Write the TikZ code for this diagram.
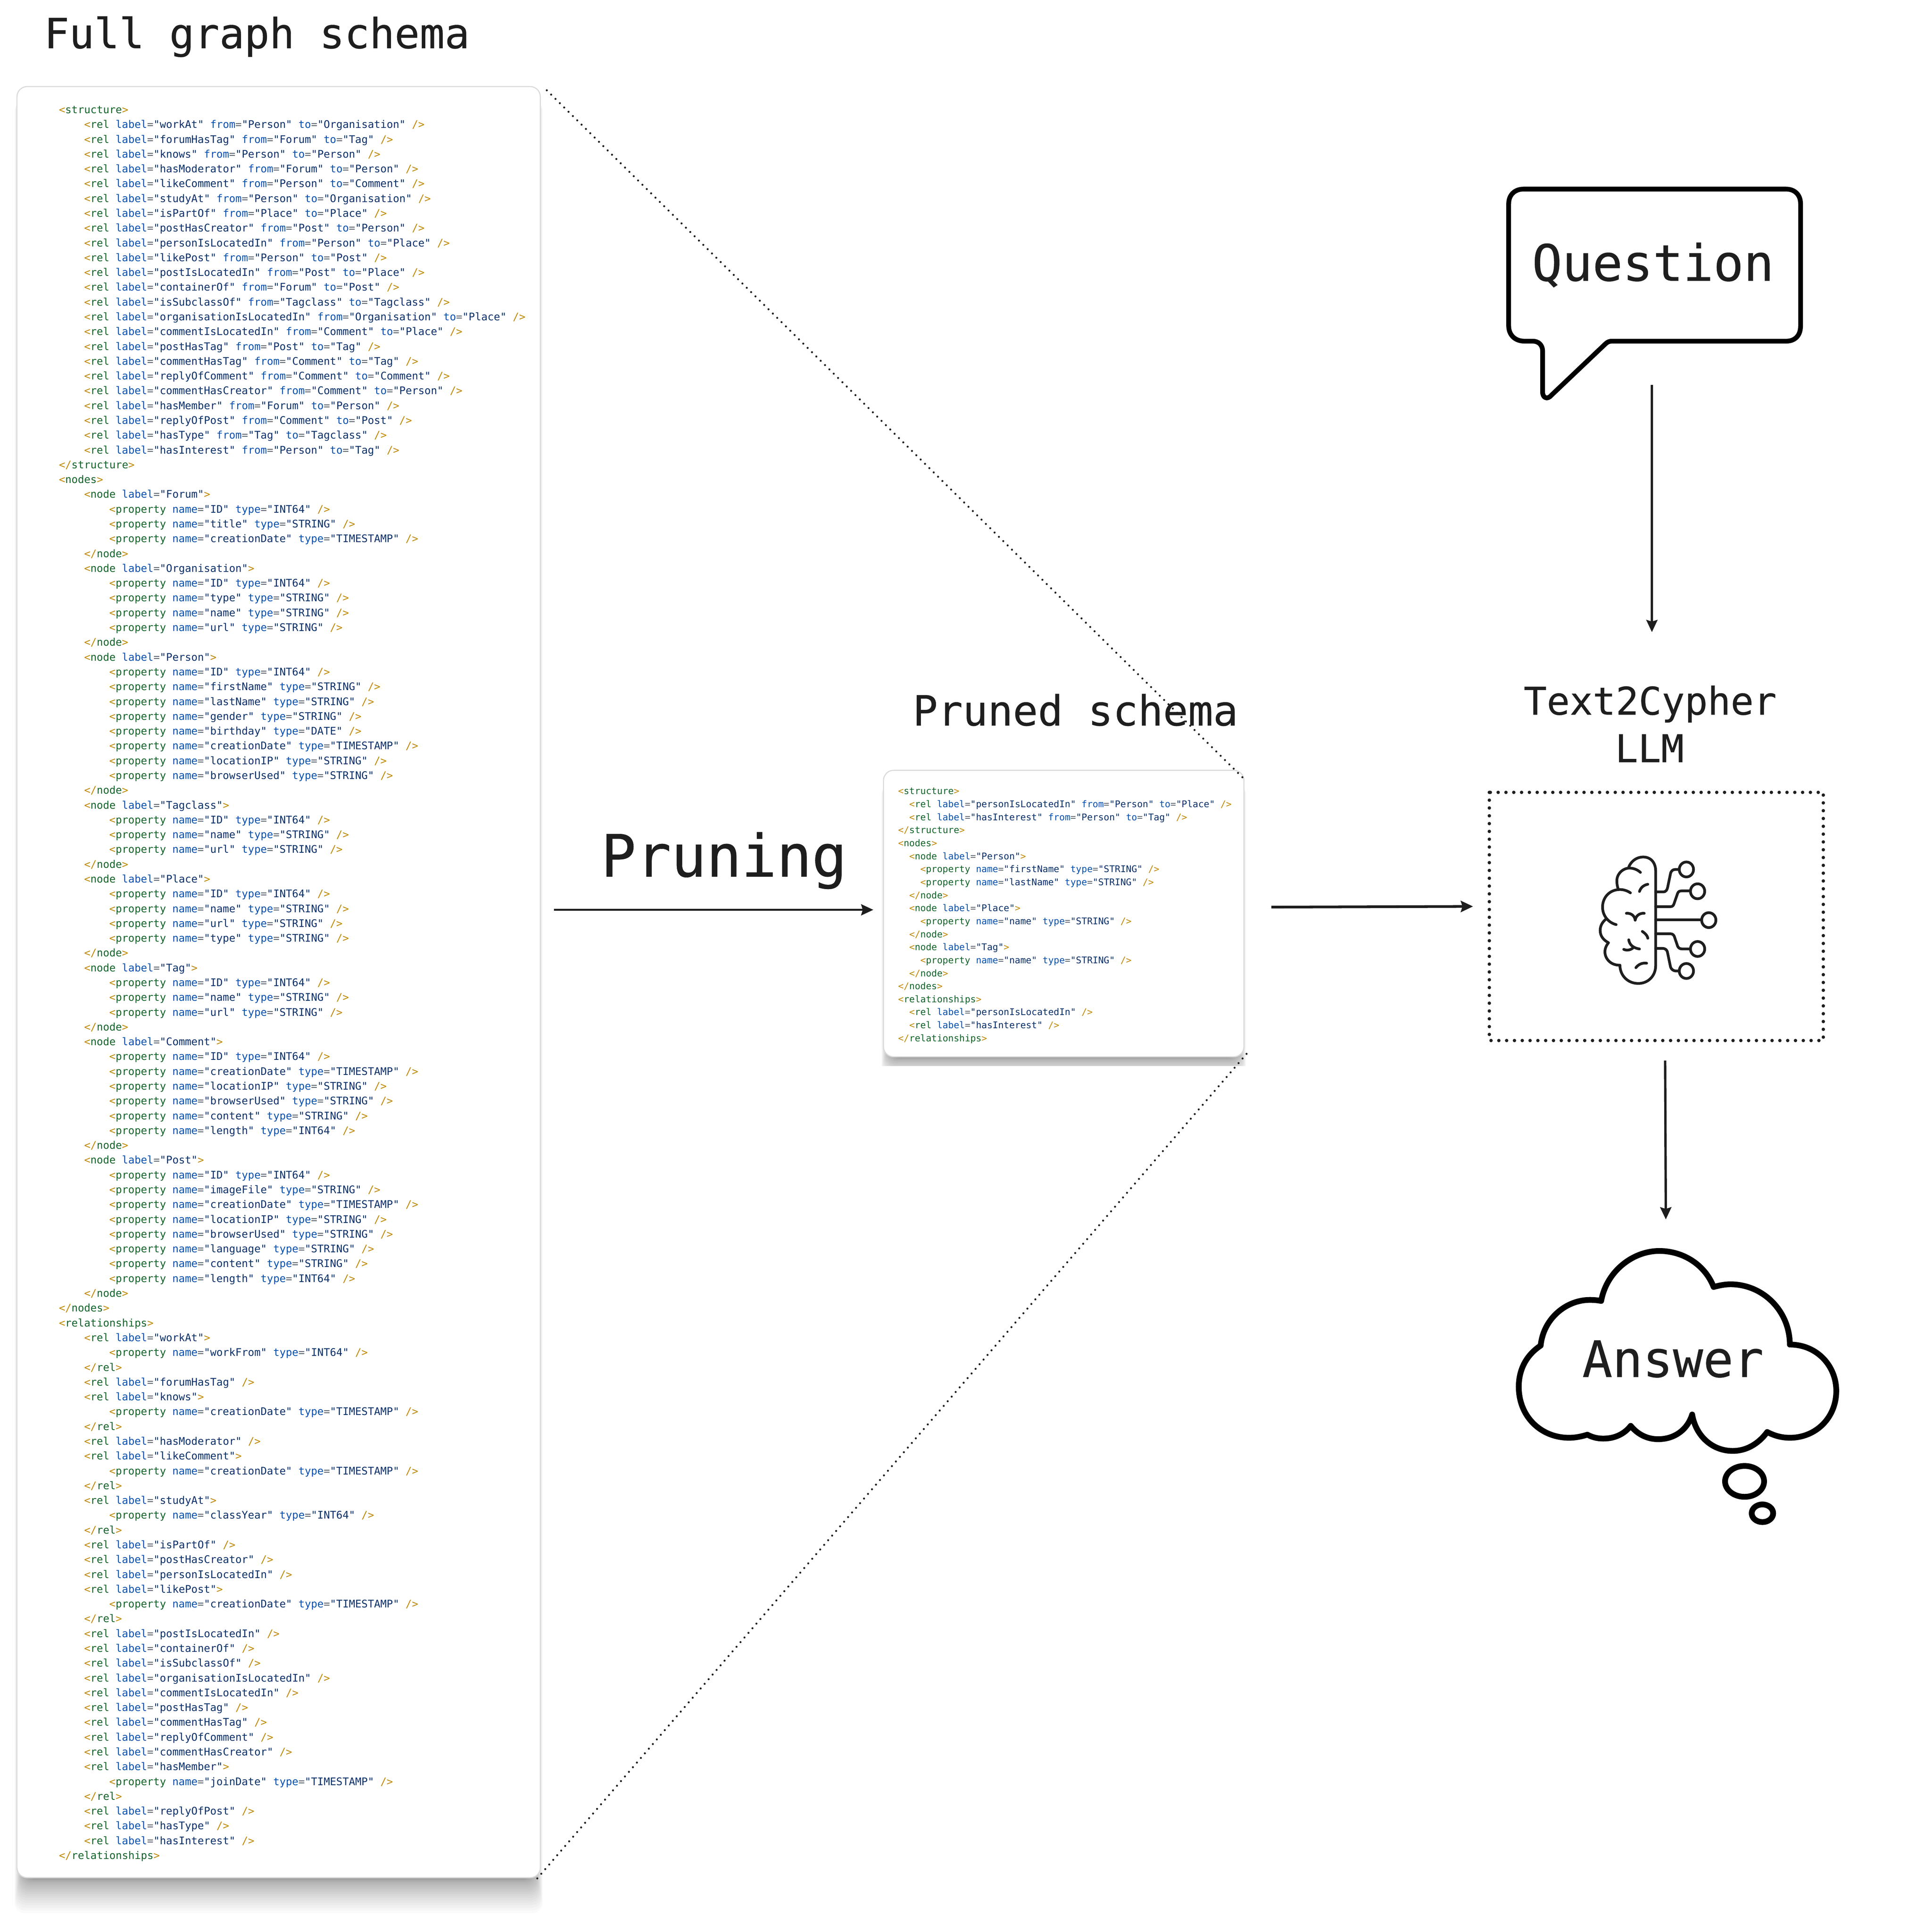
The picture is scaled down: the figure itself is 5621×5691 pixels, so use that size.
\documentclass[tikz,border=0pt]{standalone}
\usepackage{fontspec}
\usepackage{xcolor}
\usetikzlibrary{arrows.meta}
\newfontfamily\cmono{DejaVu Sans Mono}
\newfontfamily\cmonob[FakeBold=0.4]{DejaVu Sans Mono}
\definecolor{cpunct}{HTML}{BF8803}
\definecolor{ctag}{HTML}{116329}
\definecolor{cattr}{HTML}{0550AE}
\definecolor{ceq}{HTML}{57606A}
\definecolor{cval}{HTML}{0A3069}
\definecolor{ink}{HTML}{1E1E1E}
\newcommand\TO[1]{{\color{cpunct}<}{\color{ctag}#1}}
\newcommand\AT[2]{\ {\color{cattr}#1}{\color{ceq}=}{\color{cval}"#2"}}
\newcommand\CL{\ {\color{cpunct}/>}}
\newcommand\GT{{\color{cpunct}>}}
\newcommand\ET[1]{{\color{cpunct}</}{\color{ctag}#1}{\color{cpunct}>}}
\newcommand\OT[1]{{\color{cpunct}<}{\color{ctag}#1}{\color{cpunct}>}}
\newcommand\RF[3]{\TO{rel}\AT{label}{#1}\AT{from}{#2}\AT{to}{#3}\CL}
\newcommand\RS[1]{\TO{rel}\AT{label}{#1}\CL}
\newcommand\RO[1]{\TO{rel}\AT{label}{#1}\GT}
\newcommand\NO[1]{\TO{node}\AT{label}{#1}\GT}
\newcommand\PR[2]{\TO{property}\AT{name}{#1}\AT{type}{#2}\CL}
\newcount\lnum
\newcommand\FL[2]{\node[codefull] (f\the\lnum) at ({173.5+#1*18.55},{334+\the\lnum*43.58}) {#2};\global\advance\lnum by 1\relax}
\newcommand\SL[2]{\node[codesmall] (s\the\lnum) at ({2646+#1*16.35},{2340+\the\lnum*38.3}) {#2};\global\advance\lnum by 1\relax}
\newcommand\PShadow[6]{%
 \foreach \k in {0,...,24}{%
  \pgfmathsetmacro\ins{#6*(1-\k/24)-0.2*#6}%
  \pgfmathsetmacro\dd{#5*(0.02+0.98*(\k/24)*(\k/24))}%
  \fill[black,opacity=.02,rounded corners=30pt] ({#1+\ins},{#2+40}) rectangle ({#3-\ins},{#4+\dd});
 }}
\tikzset{
 x=1pt,y=-1pt,
 codefull/.style={anchor=base west,inner sep=0pt,font=\cmono\fontsize{30.85}{36}\selectfont},
 codesmall/.style={anchor=base west,inner sep=0pt,font=\cmono\fontsize{27.2}{32}\selectfont},
 titletext/.style={inner sep=0pt,text=ink,font=\cmonob\fontsize{122.5}{140}\selectfont},
 bigtext/.style={inner sep=0pt,text=ink,font=\cmonob\fontsize{148}{170}\selectfont},
 panel/.style={fill=white,draw=black!15,line width=3pt,rounded corners=30pt},
 flow/.style={draw=ink,-{Stealth[length=36pt,width=33pt,inset=5pt]}},
 dotline/.style={draw=ink,line width=6pt,line cap=round,dash pattern=on 0pt off 18pt},
 brainline/.style={draw=ink,line width=8pt,line cap=round,line join=round},
 heavy/.style={draw=black,line join=round,line cap=round},
}
\begin{document}
\begin{tikzpicture}
\path[fill=white,use as bounding box] (0,0) rectangle (5621,5691);

% titles
\node[titletext,anchor=base west] (tfull) at (130,142) {Full graph schema};
\node[titletext,anchor=base west] (tpruned) at (2689,2137) {Pruned schema};
\node[inner sep=0pt,text=ink,font=\cmonob\fontsize{172}{190}\selectfont,anchor=base] (tprune) at (2133,2582) {Pruning};
\node[titletext,anchor=base,font=\cmonob\fontsize{112.5}{130}\selectfont] (tllm1) at (4862,2105) {Text2Cypher};
\node[titletext,anchor=base,font=\cmonob\fontsize{112.5}{130}\selectfont] (tllm2) at (4860,2245) {LLM};

% full schema panel
\PShadow{50}{255}{1592}{5531}{105}{34}
\path[panel] (50,255) rectangle (1592,5531);
\lnum=0
\FL0{\OT{structure}}
\FL4{\RF{workAt}{Person}{Organisation}}
\FL4{\RF{forumHasTag}{Forum}{Tag}}
\FL4{\RF{knows}{Person}{Person}}
\FL4{\RF{hasModerator}{Forum}{Person}}
\FL4{\RF{likeComment}{Person}{Comment}}
\FL4{\RF{studyAt}{Person}{Organisation}}
\FL4{\RF{isPartOf}{Place}{Place}}
\FL4{\RF{postHasCreator}{Post}{Person}}
\FL4{\RF{personIsLocatedIn}{Person}{Place}}
\FL4{\RF{likePost}{Person}{Post}}
\FL4{\RF{postIsLocatedIn}{Post}{Place}}
\FL4{\RF{containerOf}{Forum}{Post}}
\FL4{\RF{isSubclassOf}{Tagclass}{Tagclass}}
\FL4{\RF{organisationIsLocatedIn}{Organisation}{Place}}
\FL4{\RF{commentIsLocatedIn}{Comment}{Place}}
\FL4{\RF{postHasTag}{Post}{Tag}}
\FL4{\RF{commentHasTag}{Comment}{Tag}}
\FL4{\RF{replyOfComment}{Comment}{Comment}}
\FL4{\RF{commentHasCreator}{Comment}{Person}}
\FL4{\RF{hasMember}{Forum}{Person}}
\FL4{\RF{replyOfPost}{Comment}{Post}}
\FL4{\RF{hasType}{Tag}{Tagclass}}
\FL4{\RF{hasInterest}{Person}{Tag}}
\FL0{\ET{structure}}
\FL0{\OT{nodes}}
\FL4{\NO{Forum}}
\FL8{\PR{ID}{INT64}}
\FL8{\PR{title}{STRING}}
\FL8{\PR{creationDate}{TIMESTAMP}}
\FL4{\ET{node}}
\FL4{\NO{Organisation}}
\FL8{\PR{ID}{INT64}}
\FL8{\PR{type}{STRING}}
\FL8{\PR{name}{STRING}}
\FL8{\PR{url}{STRING}}
\FL4{\ET{node}}
\FL4{\NO{Person}}
\FL8{\PR{ID}{INT64}}
\FL8{\PR{firstName}{STRING}}
\FL8{\PR{lastName}{STRING}}
\FL8{\PR{gender}{STRING}}
\FL8{\PR{birthday}{DATE}}
\FL8{\PR{creationDate}{TIMESTAMP}}
\FL8{\PR{locationIP}{STRING}}
\FL8{\PR{browserUsed}{STRING}}
\FL4{\ET{node}}
\FL4{\NO{Tagclass}}
\FL8{\PR{ID}{INT64}}
\FL8{\PR{name}{STRING}}
\FL8{\PR{url}{STRING}}
\FL4{\ET{node}}
\FL4{\NO{Place}}
\FL8{\PR{ID}{INT64}}
\FL8{\PR{name}{STRING}}
\FL8{\PR{url}{STRING}}
\FL8{\PR{type}{STRING}}
\FL4{\ET{node}}
\FL4{\NO{Tag}}
\FL8{\PR{ID}{INT64}}
\FL8{\PR{name}{STRING}}
\FL8{\PR{url}{STRING}}
\FL4{\ET{node}}
\FL4{\NO{Comment}}
\FL8{\PR{ID}{INT64}}
\FL8{\PR{creationDate}{TIMESTAMP}}
\FL8{\PR{locationIP}{STRING}}
\FL8{\PR{browserUsed}{STRING}}
\FL8{\PR{content}{STRING}}
\FL8{\PR{length}{INT64}}
\FL4{\ET{node}}
\FL4{\NO{Post}}
\FL8{\PR{ID}{INT64}}
\FL8{\PR{imageFile}{STRING}}
\FL8{\PR{creationDate}{TIMESTAMP}}
\FL8{\PR{locationIP}{STRING}}
\FL8{\PR{browserUsed}{STRING}}
\FL8{\PR{language}{STRING}}
\FL8{\PR{content}{STRING}}
\FL8{\PR{length}{INT64}}
\FL4{\ET{node}}
\FL0{\ET{nodes}}
\FL0{\OT{relationships}}
\FL4{\RO{workAt}}
\FL8{\PR{workFrom}{INT64}}
\FL4{\ET{rel}}
\FL4{\RS{forumHasTag}}
\FL4{\RO{knows}}
\FL8{\PR{creationDate}{TIMESTAMP}}
\FL4{\ET{rel}}
\FL4{\RS{hasModerator}}
\FL4{\RO{likeComment}}
\FL8{\PR{creationDate}{TIMESTAMP}}
\FL4{\ET{rel}}
\FL4{\RO{studyAt}}
\FL8{\PR{classYear}{INT64}}
\FL4{\ET{rel}}
\FL4{\RS{isPartOf}}
\FL4{\RS{postHasCreator}}
\FL4{\RS{personIsLocatedIn}}
\FL4{\RO{likePost}}
\FL8{\PR{creationDate}{TIMESTAMP}}
\FL4{\ET{rel}}
\FL4{\RS{postIsLocatedIn}}
\FL4{\RS{containerOf}}
\FL4{\RS{isSubclassOf}}
\FL4{\RS{organisationIsLocatedIn}}
\FL4{\RS{commentIsLocatedIn}}
\FL4{\RS{postHasTag}}
\FL4{\RS{commentHasTag}}
\FL4{\RS{replyOfComment}}
\FL4{\RS{commentHasCreator}}
\FL4{\RO{hasMember}}
\FL8{\PR{joinDate}{TIMESTAMP}}
\FL4{\ET{rel}}
\FL4{\RS{replyOfPost}}
\FL4{\RS{hasType}}
\FL4{\RS{hasInterest}}
\FL0{\ET{relationships}}

% pruned schema panel
\begin{scope}
\clip (2500,2200) rectangle (3800,3140);
\PShadow{2603}{2269}{3665}{3113}{65}{30}
\end{scope}
\path[panel] (2603,2269) rectangle (3665,3113);
\lnum=0
\SL0{\OT{structure}}
\SL2{\RF{personIsLocatedIn}{Person}{Place}}
\SL2{\RF{hasInterest}{Person}{Tag}}
\SL0{\ET{structure}}
\SL0{\OT{nodes}}
\SL2{\NO{Person}}
\SL4{\PR{firstName}{STRING}}
\SL4{\PR{lastName}{STRING}}
\SL2{\ET{node}}
\SL2{\NO{Place}}
\SL4{\PR{name}{STRING}}
\SL2{\ET{node}}
\SL2{\NO{Tag}}
\SL4{\PR{name}{STRING}}
\SL2{\ET{node}}
\SL0{\ET{nodes}}
\SL0{\OT{relationships}}
\SL2{\RS{personIsLocatedIn}}
\SL2{\RS{hasInterest}}
\SL0{\ET{relationships}}

% dotted zoom lines
\coordinate (fulltr) at (1611,266);
\coordinate (prunetr) at (3668,2297);
\coordinate (fullbr) at (1583,5533);
\coordinate (prunebr) at (3678,3098);
\draw[dotline] (fulltr) -- (prunetr);
\draw[dotline] (fullbr) -- (prunebr);

% flow arrows
\coordinate (a1s) at (1632,2680); \coordinate (a1e) at (2573,2680);
\coordinate (a2s) at (3746,2672); \coordinate (a2e) at (4340,2670);
\coordinate (a3s) at (4867,1134); \coordinate (a3e) at (4867,1862);
\coordinate (a4s) at (4906,3124); \coordinate (a4e) at (4908,3592);
\draw[flow,line width=5pt] (a1s) -- (a1e);
\draw[flow,line width=8pt] (a2s) -- (a2e);
\draw[flow,line width=6pt] (a3s) -- (a3e);
\draw[flow,line width=7pt] (a4s) -- (a4e);

% speech bubble
\begin{scope}[xshift=4pt]
\draw[heavy,line width=14pt,fill=white]
 (4485,557) -- (5258,557) .. controls (5285,557) and (5301,575) .. (5301,600)
 -- (5301,960) .. controls (5301,988) and (5285,1005) .. (5258,1005)
 -- (4745,1005) .. controls (4738,1005) and (4732,1007) .. (4726,1013)
 -- (4566,1165) .. controls (4555,1178) and (4541,1172) .. (4541,1155)
 -- (4541,1035) .. controls (4541,1015) and (4528,1005) .. (4512,1005)
 -- (4488,1005) .. controls (4458,1005) and (4441,985) .. (4441,960)
 -- (4441,600) .. controls (4441,575) and (4458,557) .. (4485,557) -- cycle;
\end{scope}
\node[bigtext,anchor=base] (question) at (4870,827) {Question};

% LLM box
\draw[draw=ink,line width=10pt,line cap=round,dash pattern=on 0pt off 23pt] (4388,2334) rectangle (5372,3065);

% brain icon
\begin{scope}[shift={(4304pt,-2250pt)},x=0.7018pt,y=-0.574pt]
\draw[brainline] (705,530) .. controls (715,498) and (740,478) .. (765,478) .. controls (800,478) and (818,510) .. (818,550) -- (818,1035) .. controls (818,1090) and (785,1127) .. (745,1127) .. controls (700,1127) and (668,1085) .. (668,1033) .. controls (630,1035) and (605,1000) .. (605,965) .. controls (605,945) and (612,930) .. (620,918) .. controls (600,905) and (585,885) .. (585,855) .. controls (585,830) and (595,812) .. (608,798);
\draw[brainline] (652,825) .. controls (620,815) and (595,780) .. (595,735) .. controls (595,685) and (625,645) .. (668,645) .. controls (685,645) and (700,652) .. (712,662);
\draw[brainline] (660,640) .. controls (657,628) and (655,615) .. (655,600) .. controls (655,565) and (680,535) .. (708,535) .. controls (725,535) and (742,543) .. (754,557);
\draw[brainline] (750,655) .. controls (755,635) and (768,622) .. (785,618);
\draw[brainline] (695,767) .. controls (715,765) and (730,780) .. (732,802);
\draw[brainline] (770,767) .. controls (750,765) and (735,780) .. (732,802);
\draw[brainline] (762,860) .. controls (772,868) and (783,880) .. (785,895);
\draw[brainline] (705,903) .. controls (708,930) and (725,945) .. (750,950);
\draw[brainline] (684,952) .. controls (698,960) and (715,955) .. (725,942);
\draw[brainline] (735,1046) .. controls (745,1030) and (760,1020) .. (780,1023);
\draw[brainline] (818,657) -- (850,657) .. controls (862,657) and (866,645) .. (868,635) -- (880,565) .. controls (882,550) and (890,542) .. (900,542) -- (917,542);
\draw[brainline] (818,733) -- (880,733) .. controls (890,733) and (893,725) .. (895,718) -- (910,665) .. controls (913,655) and (918,652) .. (928,652) -- (964,652);
\draw[brainline] (818,800) -- (1011,800);
\draw[brainline] (818,872) -- (880,872) .. controls (890,872) and (895,880) .. (897,888) -- (910,935) .. controls (913,945) and (920,950) .. (930,950) -- (964,950);
\draw[brainline] (818,947) -- (845,947) .. controls (860,947) and (866,955) .. (868,970) -- (880,1040) .. controls (883,1055) and (892,1063) .. (905,1063) -- (917,1063);
\draw[brainline] (947,542) ellipse [x radius=21pt,y radius=22pt];
\draw[brainline] (994,654) ellipse [x radius=21pt,y radius=22pt];
\draw[brainline] (1041,802) ellipse [x radius=21pt,y radius=22pt];
\draw[brainline] (994,950) ellipse [x radius=21pt,y radius=22pt];
\draw[brainline] (947,1063) ellipse [x radius=21pt,y radius=22pt];
\end{scope}

% thought cloud
\begin{scope}[shift={(4354pt,-3600pt)},x=0.7018pt,y=-0.606pt]
\draw[heavy,line width=17pt,fill=white]
 (264,600) .. controls (275,470) and (370,378) .. (470,378) .. controls (490,378) and (505,380) .. (518,383)
 .. controls (540,240) and (650,140) .. (762,140) .. controls (865,140) and (955,210) .. (990,315)
 .. controls (1015,307) and (1040,302) .. (1060,302) .. controls (1200,302) and (1310,435) .. (1310,595)
 .. controls (1425,595) and (1505,700) .. (1505,820) .. controls (1505,950) and (1420,1048) .. (1310,1048) .. controls (1275,1048) and (1245,1038) .. (1215,1020)
 .. controls (1180,1075) and (1130,1112) .. (1070,1112) .. controls (985,1112) and (915,1040) .. (900,935)
 .. controls (880,1010) and (825,1055) .. (757,1055) .. controls (710,1055) and (670,1030) .. (642,990)
 .. controls (615,1030) and (575,1052) .. (527,1052) .. controls (500,1052) and (480,1045) .. (460,1033)
 .. controls (435,1042) and (410,1048) .. (383,1048) .. controls (265,1048) and (172,945) .. (172,800) .. controls (172,715) and (205,645) .. (264,600) -- cycle;
\draw[heavy,line width=17pt] (1120,1260) ellipse [x radius=57.5pt,y radius=45.5pt];
\draw[heavy,line width=17pt] (1195,1415) ellipse [x radius=31.6pt,y radius=26pt];
\end{scope}
\node[bigtext,anchor=base] (answer) at (4929,4056) {Answer};
\end{tikzpicture}
\end{document}
